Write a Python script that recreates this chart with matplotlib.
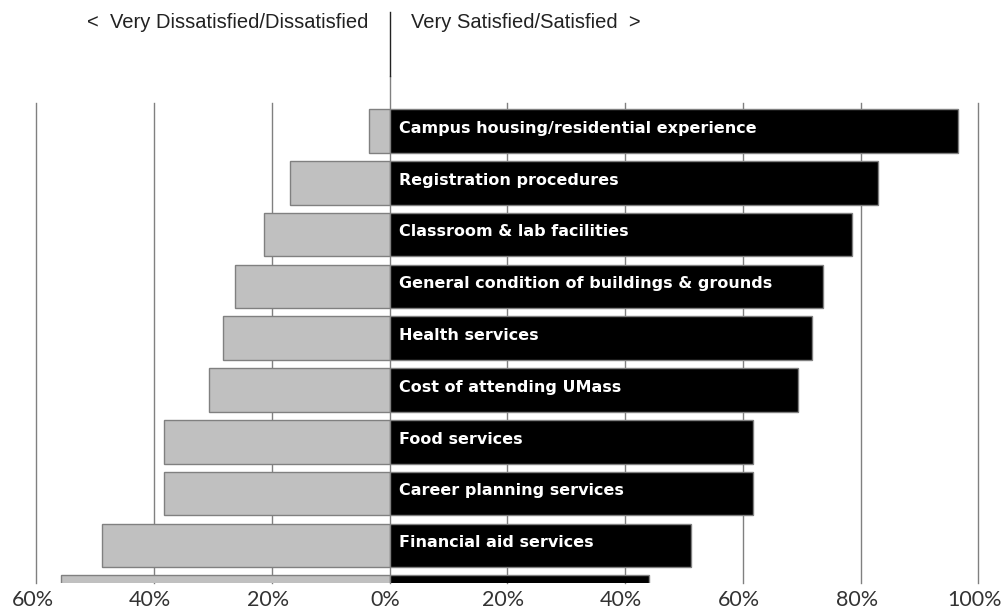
import matplotlib
matplotlib.use("Agg")
import matplotlib.pyplot as plt
import matplotlib.transforms as mtransforms
from matplotlib.lines import Line2D

# survey items, top to bottom (the last row runs off the bottom unlabelled)
items = [
    "Campus housing/residential experience",
    "Registration procedures",
    "Classroom & lab facilities",
    "General condition of buildings & grounds",
    "Health services",
    "Cost of attending UMass",
    "Food services",
    "Career planning services",
    "Financial aid services",
    "",
]
# percent very dissatisfied/dissatisfied
dissatisfied = [3.5, 17.0, 21.4, 26.3, 28.3, 30.7, 38.3, 38.3, 48.8, 55.9]
# percent very satisfied/satisfied
satisfied = [96.5, 83.0, 78.6, 73.7, 71.8, 69.3, 61.7, 61.7, 51.2, 44.1]

ticks = [-60, -40, -20, 0, 20, 40, 60, 80, 100]
tick_labels = ["60%", "40%", "20%", "0%", "20%", "40%", "60%", "80%", "100%"]

W, H = 1003, 611
fig = plt.figure(figsize=(W / 100, H / 100), dpi=100)
ax_left, ax_right, ax_top, ax_bot = 36.5, 978.3, 103, 583
ax = fig.add_axes([ax_left / W, 1 - ax_bot / H, (ax_right - ax_left) / W, (ax_bot - ax_top) / H])

grid_col = "#808080"
ypos = list(range(len(items)))

# gridlines behind the bars; the zero line runs up past the top of the axes
for t in ticks:
    top = 1 + 27 / 480 if t == 0 else 1
    ax.axvline(t, ymin=0, ymax=top, color=grid_col, lw=1, zorder=1, clip_on=False)

ax.barh(ypos, [-v for v in dissatisfied], height=0.84, color="#c0c0c0",
        edgecolor=grid_col, linewidth=1, zorder=3)
ax.barh(ypos, satisfied, height=0.84, color="black",
        edgecolor=grid_col, linewidth=1, zorder=3)

for y, name in zip(ypos, items):
    if name:
        ax.text(1.5, y - 0.05, name, color="white", fontsize=11.5, fontweight="bold",
                family="DejaVu Sans", va="center", ha="left", zorder=4)

ax.set_xlim(-60, 100)
ax.set_ylim(8.726, -0.54)
ax.set_xticks(ticks)
ax.set_xticklabels(tick_labels, fontsize=15.5, family="Lato", color="#333333")
ax.set_yticks([])
ax.tick_params(axis="x", length=0, pad=5)
# nudge tick labels a little to the left so "100%" stays inside the figure
shift = mtransforms.ScaledTranslation(-4 / 100, 0, fig.dpi_scale_trans)
for lab in ax.get_xticklabels():
    lab.set_transform(lab.get_transform() + shift)
for s in ax.spines.values():
    s.set_visible(False)

# header with divider
fig.add_artist(Line2D([390 / W, 390 / W], [1 - 12 / H, 1 - 76 / H], color="#222222", lw=1))
fig.text(368 / W, 1 - 22 / H, "<  Very Dissatisfied/Dissatisfied", ha="right", va="center",
         fontsize=14.5, family="Liberation Sans", color="#222222")
fig.text(411 / W, 1 - 22 / H, "Very Satisfied/Satisfied  >", ha="left", va="center",
         fontsize=14.5, family="Liberation Sans", color="#222222")

fig.savefig("out.png", dpi=100)
